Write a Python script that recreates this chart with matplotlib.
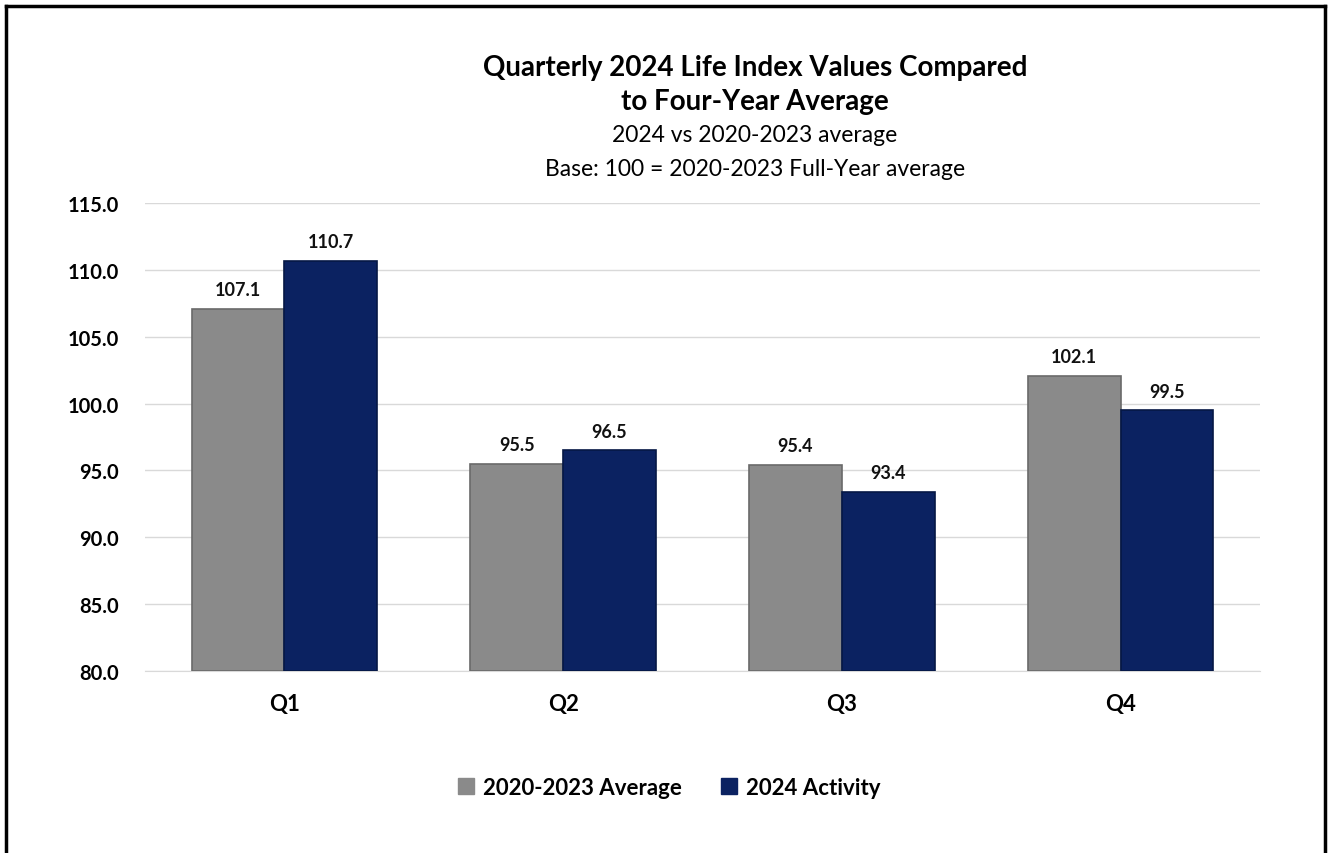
import matplotlib.pyplot as plt
import numpy as np
from matplotlib.lines import Line2D

plt.rcParams['font.family'] = ['Lato', 'DejaVu Sans']

quarters = ['Q1', 'Q2', 'Q3', 'Q4']
avg_2020_2023 = [107.1, 95.5, 95.4, 102.1]
activity_2024 = [110.7, 96.5, 93.4, 99.5]
series_names = ['2020-2023 Average', '2024 Activity']
yticks = [80, 85, 90, 95, 100, 105, 110, 115]

gray = '#8a8a8a'
navy = '#0b2261'

fig = plt.figure(figsize=(13.28, 8.54), dpi=100)
ax = fig.add_axes([0.1092, 0.2131, 0.8396, 0.548])

x = np.arange(len(quarters))
w = 0.333
ax.bar(x - w / 2, np.array(avg_2020_2023) - 80, w, bottom=80, color=gray,
       edgecolor='#6a6a6a', linewidth=1.2, zorder=3)
ax.bar(x + w / 2, np.array(activity_2024) - 80, w, bottom=80, color=navy,
       edgecolor='#061845', linewidth=1.2, zorder=3)

for xs, vals in [(x - w / 2, avg_2020_2023), (x + w / 2, activity_2024)]:
    for xi, v in zip(xs, vals):
        ax.text(xi, v + 0.8, f'{v:.1f}', ha='center', va='bottom',
                fontsize=13, fontweight='bold', color='#111111')

ax.set_xlim(-0.5, 3.5)
ax.set_ylim(80, 115)
ax.set_yticks(yticks)
ax.set_yticklabels([f'{t:.1f}' for t in yticks], fontsize=14.5, fontweight='bold')
ax.set_xticks(x)
ax.set_xticklabels(quarters, fontsize=16, fontweight='bold')
ax.tick_params(axis='both', length=0)
ax.tick_params(axis='x', pad=16)
ax.tick_params(axis='y', pad=19)
ax.grid(axis='y', color='#d9d9d9', linewidth=1, zorder=0)
for s in ['top', 'right', 'left']:
    ax.spines[s].set_visible(False)
ax.spines['bottom'].set_color('#d9d9d9')

cx = 0.5685
fig.text(cx, 0.920, 'Quarterly 2024 Life Index Values Compared', ha='center',
         va='center', fontsize=20, fontweight='bold')
fig.text(cx, 0.881, 'to Four-Year Average', ha='center', va='center',
         fontsize=20, fontweight='bold')
fig.text(cx, 0.841, '2024 vs 2020-2023 average', ha='center', va='center', fontsize=16.5)
fig.text(cx, 0.801, 'Base: 100 = 2020-2023 Full-Year average', ha='center',
         va='center', fontsize=16.5)

handles = [plt.Rectangle((0, 0), 1, 1, color=gray), plt.Rectangle((0, 0), 1, 1, color=navy)]
fig.legend(handles, series_names, loc='center', bbox_to_anchor=(0.504, 0.077),
           ncol=2, frameon=False, prop={'size': 16, 'weight': 'bold'},
           handlelength=0.7, handleheight=0.7, handletextpad=0.4, columnspacing=1.8)

# outer frame (bottom edge is cut off in the original)
for xs_, ys_ in [([0.0045, 0.0045], [0.0, 0.992]), ([0.0045, 0.998], [0.992, 0.992]),
                 ([0.998, 0.998], [0.992, 0.0])]:
    fig.add_artist(Line2D(xs_, ys_, color='black', linewidth=2.5))

fig.savefig('out.png', dpi=100)
